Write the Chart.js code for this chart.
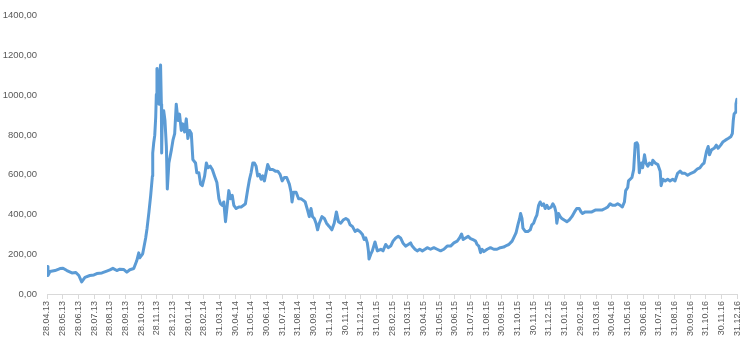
<!DOCTYPE html>
<html>
<head>
<meta charset="utf-8">
<script src="https://cdn.jsdelivr.net/npm/chart.js@4"></script>
<style>
  body { margin: 0; background: #fff; }
  #wrap { width: 750px; height: 347px; }
</style>
</head>
<body>
<div id="wrap"><canvas id="priceChart" width="750" height="347"></canvas></div>
<script>
// month ticks, one per label (0 = 28.04.13 ... 44 = 31.12.16)
const tickLabels = [
  '28.04.13', '28.05.13', '28.06.13', '28.07.13', '28.08.13', '28.09.13', '28.10.13', '28.11.13',
  '28.12.13', '28.01.14', '28.02.14', '31.03.14', '30.04.14', '31.05.14', '30.06.14', '31.07.14',
  '31.08.14', '30.09.14', '31.10.14', '30.11.14', '31.12.14', '31.01.15', '28.02.15', '31.03.15',
  '30.04.15', '31.05.15', '30.06.15', '31.07.15', '31.08.15', '30.09.15', '31.10.15', '30.11.15',
  '31.12.15', '31.01.16', '29.02.16', '31.03.16', '30.04.16', '31.05.16', '30.06.16', '31.07.16',
  '31.08.16', '30.09.16', '31.10.16', '30.11.16', '31.12.16'
];

// position of each point, in months from the first tick
const monthPos = [
  0.00, 0.06, 0.19, 0.51, 0.83, 1.02, 1.27, 1.59, 1.84, 2.03, 2.21, 2.42, 2.73, 2.99, 3.18, 3.50,
  3.81, 4.01, 4.20, 4.45, 4.64, 4.90, 5.09, 5.28, 5.53, 5.72, 5.85, 5.91, 6.10, 6.29, 6.38, 6.50,
  6.61, 6.72, 6.74, 6.80, 6.87, 6.93, 6.97, 7.01, 7.08, 7.14, 7.18, 7.24, 7.29, 7.31, 7.35, 7.44,
  7.52, 7.61, 7.67, 7.77, 7.93, 8.03, 8.14, 8.24, 8.35, 8.45, 8.56, 8.66, 8.77, 8.88, 8.98, 9.09,
  9.20, 9.30, 9.47, 9.55, 9.68, 9.79, 9.90, 10.05, 10.16, 10.26, 10.41, 10.54, 10.68, 10.83, 10.96, 11.06,
  11.17, 11.27, 11.38, 11.49, 11.59, 11.70, 11.81, 11.91, 12.06, 12.23, 12.38, 12.53, 12.65, 12.80, 12.91, 13.01,
  13.12, 13.22, 13.33, 13.43, 13.54, 13.65, 13.75, 13.86, 14.07, 14.22, 14.39, 14.56, 14.71, 14.86, 14.99, 15.13,
  15.28, 15.45, 15.56, 15.62, 15.72, 15.88, 16.04, 16.19, 16.34, 16.46, 16.61, 16.72, 16.83, 16.93, 17.04, 17.15,
  17.25, 17.36, 17.53, 17.68, 17.82, 17.99, 18.16, 18.31, 18.45, 18.58, 18.73, 18.88, 19.05, 19.20, 19.32, 19.47,
  19.64, 19.79, 19.94, 20.11, 20.22, 20.32, 20.42, 20.49, 20.53, 20.64, 20.74, 20.91, 21.06, 21.28, 21.42, 21.59,
  21.75, 21.91, 22.06, 22.23, 22.39, 22.54, 22.69, 22.86, 23.03, 23.18, 23.28, 23.46, 23.60, 23.76, 23.93, 24.10,
  24.24, 24.45, 24.66, 24.87, 25.09, 25.30, 25.51, 25.73, 25.94, 26.15, 26.30, 26.43, 26.53, 26.68, 26.85, 27.00,
  27.15, 27.32, 27.42, 27.53, 27.64, 27.74, 27.85, 28.06, 28.27, 28.48, 28.69, 28.90, 29.11, 29.32, 29.44, 29.65,
  29.75, 29.90, 30.02, 30.13, 30.19, 30.28, 30.34, 30.49, 30.66, 30.81, 30.91, 31.02, 31.13, 31.23, 31.34, 31.44,
  31.55, 31.66, 31.76, 31.87, 31.98, 32.15, 32.25, 32.36, 32.44, 32.50, 32.61, 32.72, 32.82, 32.97, 33.14, 33.29,
  33.46, 33.63, 33.77, 33.93, 34.05, 34.14, 34.31, 34.52, 34.73, 34.95, 35.16, 35.37, 35.58, 35.75, 35.90, 36.05,
  36.22, 36.38, 36.54, 36.68, 36.81, 36.89, 37.02, 37.07, 37.29, 37.40, 37.50, 37.61, 37.67, 37.76, 37.82, 37.89,
  37.97, 38.09, 38.18, 38.30, 38.41, 38.56, 38.62, 38.77, 38.94, 39.09, 39.15, 39.26, 39.41, 39.57, 39.72, 39.89,
  40.04, 40.20, 40.36, 40.50, 40.67, 40.84, 41.05, 41.26, 41.47, 41.62, 41.77, 41.89, 42.04, 42.15, 42.23, 42.36,
  42.53, 42.67, 42.78, 42.95, 43.10, 43.25, 43.42, 43.59, 43.69, 43.75, 43.80, 43.88, 43.92, 43.98, 44.00
];

const prices = [
  138, 93, 113, 118, 128, 130, 118, 106, 108, 93, 61, 84, 93, 96, 103, 106,
  115, 121, 129, 118, 125, 123, 110, 122, 128, 167, 207, 182, 202, 282, 331, 413,
  496, 594, 709, 758, 799, 889, 1004, 1135, 1037, 955, 1102, 1152, 955, 709, 905, 922,
  873, 742, 528, 659, 725, 774, 807, 955, 873, 905, 823, 856, 815, 881, 782, 823,
  807, 676, 659, 610, 610, 553, 545, 594, 659, 635, 643, 626, 594, 561, 479, 454,
  446, 463, 364, 446, 520, 479, 496, 446, 430, 438, 438, 446, 454, 528, 577, 610,
  659, 659, 643, 594, 602, 577, 594, 569, 651, 626, 626, 618, 618, 602, 569, 586,
  586, 553, 512, 463, 512, 512, 479, 479, 471, 463, 422, 389, 430, 389, 380, 356,
  323, 356, 389, 380, 356, 340, 323, 356, 413, 364, 356, 372, 380, 372, 348, 340,
  315, 323, 315, 299, 274, 282, 257, 217, 176, 200, 217, 262, 217, 225, 217, 249,
  233, 241, 266, 282, 290, 282, 257, 241, 249, 257, 241, 225, 217, 225, 217, 225,
  233, 225, 233, 225, 217, 225, 241, 241, 257, 266, 282, 302, 274, 282, 290, 279,
  274, 266, 249, 241, 208, 225, 213, 225, 233, 225, 225, 233, 236, 245, 249, 266,
  282, 307, 348, 380, 405, 380, 331, 315, 315, 323, 348, 356, 380, 397, 446, 463,
  446, 454, 430, 446, 430, 438, 454, 438, 413, 356, 405, 389, 380, 372, 364, 372,
  389, 413, 430, 430, 413, 405, 413, 413, 413, 422, 422, 422, 430, 438, 454, 446,
  446, 454, 446, 438, 463, 520, 536, 569, 586, 626, 758, 761, 749, 610, 643, 659,
  635, 700, 659, 643, 659, 651, 673, 659, 651, 618, 545, 577, 569, 577, 569, 577,
  569, 607, 618, 607, 607, 597, 607, 614, 630, 635, 651, 659, 717, 742, 700, 725,
  733, 749, 733, 749, 766, 774, 782, 791, 807, 873, 905, 914, 955, 979, 963
];

const yMax = 1400;
const yStep = 200;

function formatValue(v) {
  return v.toFixed(2).replace('.', ',');
}

window.onload = function() {
  const ctx = document.getElementById('priceChart').getContext('2d');
  const points = monthPos.map((m, i) => ({x: m, y: prices[i]}));

  new Chart(ctx, {
    type: 'line',
    data: {
      datasets: [{
        data: points,
        borderColor: '#5b9bd5',
        borderWidth: 3,
        borderJoinStyle: 'round',
        borderCapStyle: 'round',
        pointRadius: 0,
        tension: 0,
        fill: false
      }]
    },
    options: {
      responsive: false,
      animation: false,
      layout: {
        padding: {left: 0, right: 11, top: 9.5, bottom: 0}
      },
      plugins: {
        legend: {display: false},
        tooltip: {enabled: false}
      },
      scales: {
        x: {
          type: 'linear',
          min: 0,
          max: tickLabels.length - 1,
          afterFit: function(scale) { scale.height = 53; },
          grid: {
            drawOnChartArea: false,
            drawTicks: true,
            tickLength: 5,
            color: '#d9d9d9'
          },
          border: {color: '#d9d9d9'},
          ticks: {
            stepSize: 1,
            autoSkip: false,
            minRotation: 90,
            maxRotation: 90,
            padding: 2,
            color: '#595959',
            font: {family: 'Liberation Sans', size: 9},
            callback: function(value) {
              return Number.isInteger(value) ? tickLabels[value] : '';
            }
          }
        },
        y: {
          min: 0,
          max: yMax,
          afterFit: function(scale) { scale.width = 47; },
          grid: {display: false, drawTicks: false},
          border: {display: false},
          ticks: {
            stepSize: yStep,
            padding: 10,
            color: '#595959',
            font: {family: 'Liberation Sans', size: 9.5},
            callback: function(value) { return formatValue(value); }
          }
        }
      }
    }
  });
};
</script>
</body>
</html>
